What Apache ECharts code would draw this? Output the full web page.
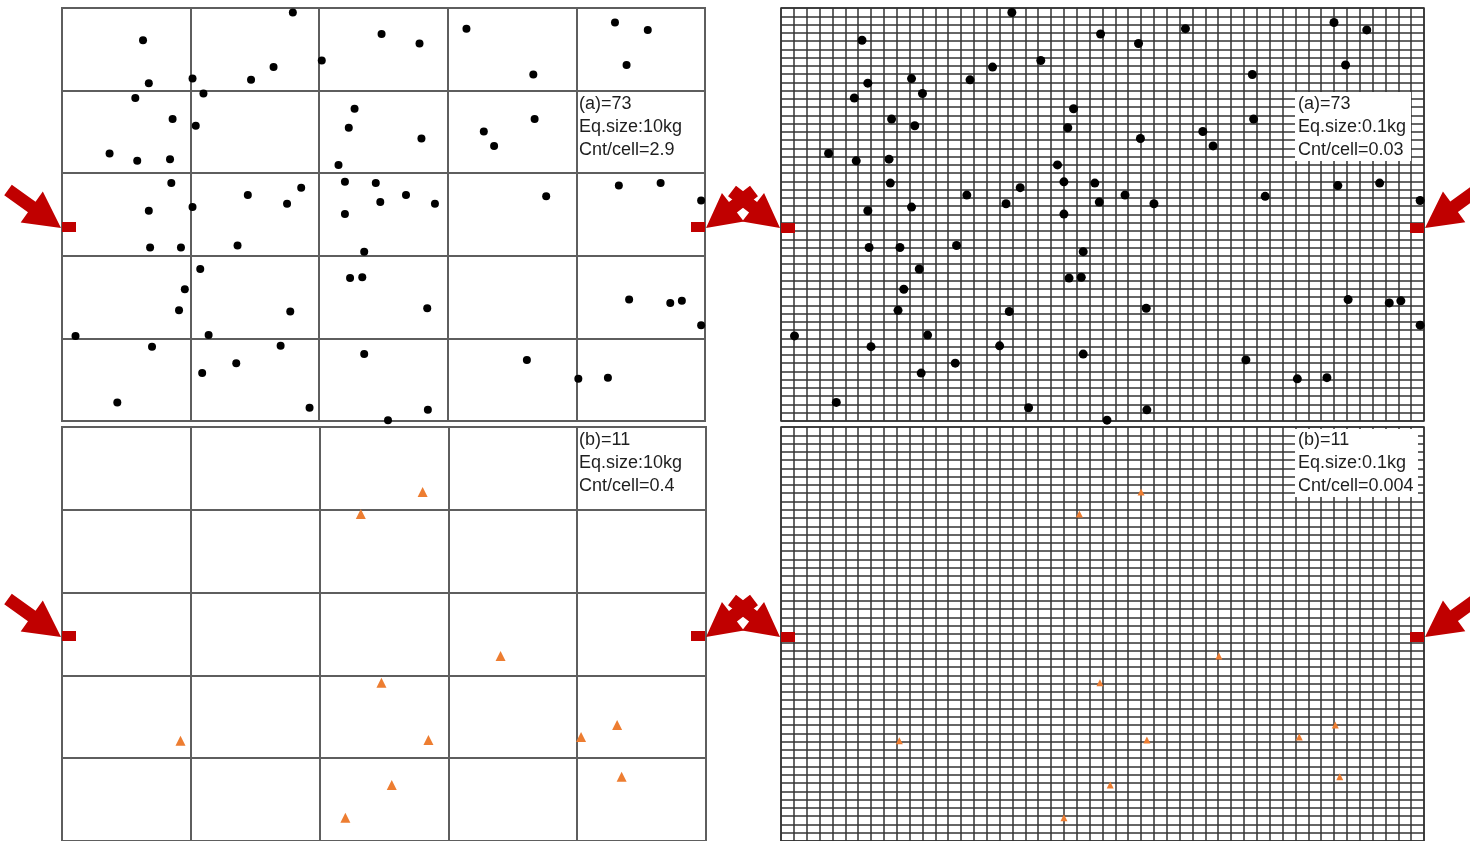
<!DOCTYPE html>
<html>
<head>
<meta charset="utf-8">
<script src="https://cdn.jsdelivr.net/npm/echarts@6/dist/echarts.min.js"></script>
<style>
  html, body { margin: 0; padding: 0; background: #ffffff; }
  #chart { width: 1470px; height: 841px; }
</style>
</head>
<body>
<div id="chart"></div>
<script>
// Sample (a): positions in percent of plot width / height (y measured from the bottom)
const dotX = [35.9,12.6,49.7,40.4,32.9,29.4,20.3,13.5,22.0,11.4,
              45.5,44.6,17.2,20.8,7.4,11.7,16.8,43.0,17.0,44.0,
              48.8,37.2,28.9,35.0,49.5,20.3,13.5,44.0,55.6,62.9,
              86.0,91.1,87.8,73.3,73.5,65.6,67.2,55.9,53.5,58.0,
              75.3,86.6,93.1,99.4,13.7,18.5,27.3,47.0,21.5,19.1,
              44.8,46.7,18.2,35.5,2.1,22.8,14.0,34.0,47.0,27.1,
              21.8,8.6,38.5,50.7,56.8,88.2,94.6,96.4,99.4,72.3,
              80.3,84.9,56.9];
const dotY = [98.9,92.2,93.7,87.3,85.7,82.6,82.9,81.8,79.3,78.2,
              75.6,71.0,73.1,71.5,64.8,63.0,63.4,62.0,57.6,57.9,
              57.6,56.5,54.7,52.6,53.0,51.8,50.9,50.1,91.4,95.0,
              96.5,94.7,86.2,83.9,73.1,70.1,66.6,68.4,54.7,52.6,
              54.4,57.0,57.6,53.4,42.0,42.0,42.5,41.0,36.8,31.9,
              34.6,34.8,26.8,26.5,20.6,20.8,18.0,18.2,16.2,14.0,
              11.6,4.5,3.2,0.2,27.3,29.4,28.6,29.1,23.2,14.8,
              10.2,10.5,2.7];

// Sample (b)
const triX = [56.0,46.4,68.1,49.6,18.4,56.9,80.6,86.2,86.9,51.2,44.0];
const triY = [84.3,79.0,44.7,38.2,24.2,24.4,25.1,28.0,15.5,13.5,5.6];

// Cells per side for the two equivalent sizes
const coarseCells = 5;   // 10 kg
const fineCells = 50;    // 0.1 kg

const labelA10 = ['(a)=73', 'Eq.size:10kg', 'Cnt/cell=2.9'];
const labelA01 = ['(a)=73', 'Eq.size:0.1kg', 'Cnt/cell=0.03'];
const labelB10 = ['(b)=11', 'Eq.size:10kg', 'Cnt/cell=0.4'];
const labelB01 = ['(b)=11', 'Eq.size:0.1kg', 'Cnt/cell=0.004'];

const panels = [
  { left: 62,  top: 8,   width: 643, height: 413, cells: coarseCells },
  { left: 781, top: 8,   width: 643, height: 413, cells: fineCells },
  { left: 62,  top: 427, width: 644, height: 414, cells: coarseCells },
  { left: 781, top: 427, width: 643, height: 414, cells: fineCells }
];

const RED = '#c00000';
const TEXT_FONT = '18px "Liberation Sans", Arial, sans-serif';

function lineStyleFor(cells) {
  return cells === coarseCells
    ? { color: '#5e5e5e', width: 2 }
    : { color: '#333333', width: 1.5 };
}

function axisFor(i, cells) {
  return {
    gridIndex: i, type: 'value', min: 0, max: 100, interval: 100 / cells,
    axisLine: { show: false }, axisTick: { show: false }, axisLabel: { show: false },
    splitLine: { show: true, lineStyle: lineStyleFor(cells) }
  };
}

function pairs(xs, ys) { return xs.map((x, k) => [x, ys[k]]); }

// Block arrow polygon from tail to tip
function arrowPoints(tail, tip, shaftW, headW, headL) {
  const dx = tip[0] - tail[0], dy = tip[1] - tail[1];
  const L = Math.hypot(dx, dy);
  const ux = dx / L, uy = dy / L, nx = -uy, ny = ux;
  const bx = tip[0] - ux * headL, by = tip[1] - uy * headL;
  return [
    [tail[0] + nx * shaftW / 2, tail[1] + ny * shaftW / 2],
    [bx + nx * shaftW / 2, by + ny * shaftW / 2],
    [bx + nx * headW / 2, by + ny * headW / 2],
    [tip[0], tip[1]],
    [bx - nx * headW / 2, by - ny * headW / 2],
    [bx - nx * shaftW / 2, by - ny * shaftW / 2],
    [tail[0] - nx * shaftW / 2, tail[1] - ny * shaftW / 2]
  ];
}

function arrow(tail, tip, headW, headL) {
  return { type: 'polygon', z: 100, shape: { points: arrowPoints(tail, tip, 13, headW, headL) }, style: { fill: RED } };
}
function marker(x, y) {
  return { type: 'rect', z: 101, shape: { x: x, y: y, width: 14, height: 10 }, style: { fill: RED } };
}
function label(lines, x, yFirst) {
  return lines.map((t, k) => ({
    type: 'text', z: 102, x: x, y: yFirst + k * 23,
    style: { text: t, font: TEXT_FONT, fill: '#1e1e1e', verticalAlign: 'middle', align: 'left' }
  }));
}
function whiteBox(x, y, w, h) {
  return { type: 'rect', z: 99, shape: { x: x, y: y, width: w, height: h }, style: { fill: '#ffffff' } };
}

const graphics = [];
[0, 409].forEach(off => {
  const y = 222 + off, mid = 228 + off;
  graphics.push(arrow([8, mid - 38], [61, mid], 38, 36));
  graphics.push(arrow([754, mid - 37], [706, mid], 36, 34));
  graphics.push(arrow([732, mid - 37], [780, mid], 36, 34));
  graphics.push(arrow([1480, mid - 40], [1425, mid], 38, 36));
  graphics.push(marker(62, y));
  graphics.push(marker(691, y));
  graphics.push(marker(781, y + 1));
  graphics.push(marker(1410, y + 1));
});
graphics.push(whiteBox(1295, 92, 116, 69));
graphics.push(whiteBox(1295, 429, 123, 68));
graphics.push(...label(labelA10, 579, 104));
graphics.push(...label(labelA01, 1298, 104));
graphics.push(...label(labelB10, 579, 440));
graphics.push(...label(labelB01, 1298, 440));

const chart = echarts.init(document.getElementById('chart'), null, { renderer: 'canvas' });
chart.setOption({
  animation: false,
  backgroundColor: '#ffffff',
  grid: panels.map(p => ({
    left: p.left, top: p.top, width: p.width, height: p.height,
    show: true, borderColor: lineStyleFor(p.cells).color, borderWidth: lineStyleFor(p.cells).width,
    backgroundColor: 'transparent'
  })),
  xAxis: panels.map((p, i) => axisFor(i, p.cells)),
  yAxis: panels.map((p, i) => axisFor(i, p.cells)),
  series: [
    { type: 'scatter', xAxisIndex: 0, yAxisIndex: 0, data: pairs(dotX, dotY),
      symbol: 'circle', symbolSize: 8, itemStyle: { color: '#000000', opacity: 1 } },
    { type: 'scatter', xAxisIndex: 1, yAxisIndex: 1, data: pairs(dotX, dotY),
      symbol: 'circle', symbolSize: 9, itemStyle: { color: '#000000', opacity: 1 } },
    { type: 'scatter', xAxisIndex: 2, yAxisIndex: 2, data: pairs(triX, triY),
      symbol: 'triangle', symbolSize: 10, itemStyle: { color: '#ed7d31', opacity: 1 } },
    { type: 'scatter', xAxisIndex: 3, yAxisIndex: 3, data: pairs(triX, triY),
      symbol: 'triangle', symbolSize: 7, itemStyle: { color: '#ed7d31', opacity: 1 } }
  ],
  graphic: graphics
});
</script>
</body>
</html>
